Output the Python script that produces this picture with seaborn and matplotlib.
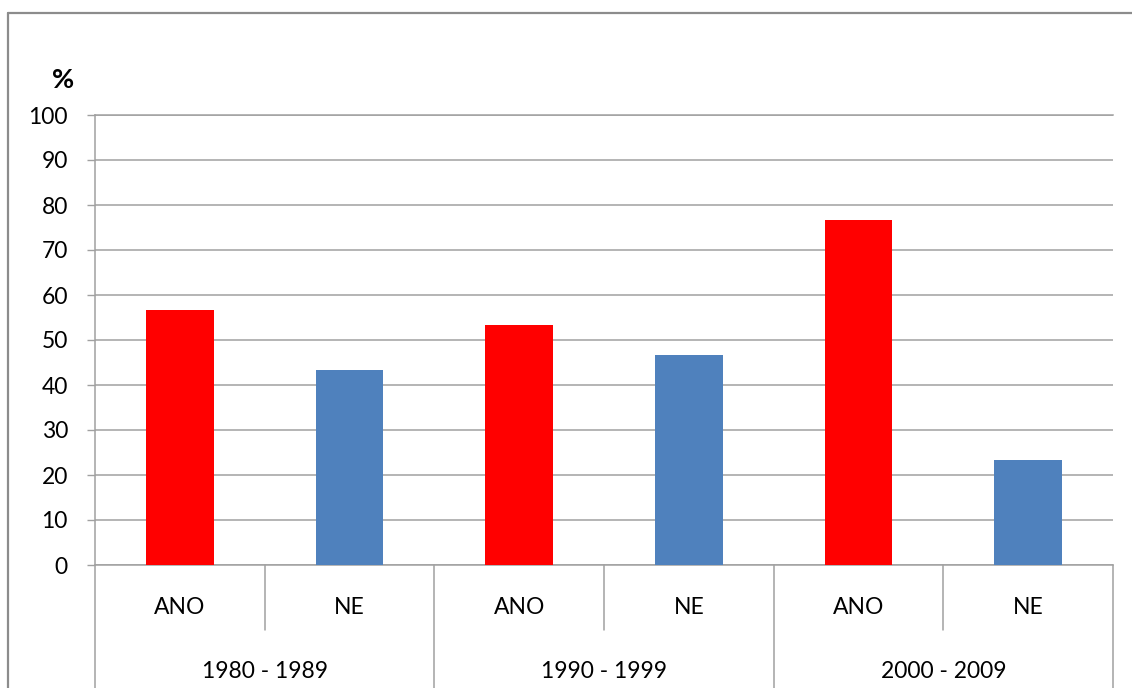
import matplotlib
matplotlib.use("Agg")
import matplotlib.pyplot as plt
import matplotlib.transforms as mtransforms
from matplotlib.lines import Line2D
import pandas as pd
import seaborn as sns

# Data
periods = ["1980 - 1989", "1990 - 1999", "2000 - 2009"]
answers = ["ANO", "NE"]
ano_values = [56.7, 53.3, 76.7]
ne_values = [43.3, 46.7, 23.3]
y_ticks = [0, 10, 20, 30, 40, 50, 60, 70, 80, 90, 100]
colors = {"ANO": "#FF0000", "NE": "#4F81BD"}

rows = []
for p, a_val, n_val in zip(periods, ano_values, ne_values):
    rows.append({"period": p, "answer": "ANO", "value": a_val})
    rows.append({"period": p, "answer": "NE", "value": n_val})
df = pd.DataFrame(rows)
df["slot"] = df["period"] + " | " + df["answer"]
order = list(df["slot"])

sns.set_theme(style="white")
plt.rcParams["font.family"] = ["Lato", "DejaVu Sans"]

W, H = 1132, 688
FS = 16.5
fig = plt.figure(figsize=(W / 100, H / 100), dpi=100)
ax = fig.add_axes([95 / W, (H - 565) / H, 1018 / W, 450 / H])

grid_col = "#A0A0A0"
sns.barplot(data=df, x="slot", y="value", hue="answer", order=order,
            palette=colors, dodge=False, width=0.4, saturation=1,
            legend=False, ax=ax, edgecolor="none", zorder=3)

ax.set_xlim(-0.5, 5.5)
ax.set_ylim(0, 100)
ax.set_yticks(y_ticks)
ax.set_yticklabels([str(t) for t in y_ticks], fontsize=FS, color="#000000")
ax.yaxis.grid(True, color=grid_col, linewidth=1.1, zorder=0)
ax.set_axisbelow(True)
ax.tick_params(axis="y", length=6, width=1.0, color=grid_col, pad=13.5, left=True)
ax.set_xticks([])
ax.set_xlabel("")
ax.set_ylabel("")

for side in ["left", "top", "bottom"]:
    ax.spines[side].set_visible(True)
    ax.spines[side].set_color(grid_col)
    ax.spines[side].set_linewidth(1.1)
ax.spines["right"].set_visible(False)

trans = mtransforms.blended_transform_factory(ax.transData, ax.transAxes)

# Two-level category axis below the plot
short_bottom = (565 - 630) / 450
long_bottom = -0.35
for x in [0.5, 2.5, 4.5]:
    ax.add_line(Line2D([x, x], [0, short_bottom], transform=trans,
                       color=grid_col, linewidth=1.1, clip_on=False))
for x in [-0.5, 1.5, 3.5, 5.5]:
    ax.add_line(Line2D([x, x], [0, long_bottom], transform=trans,
                       color=grid_col, linewidth=1.1, clip_on=False))

for i, slot in enumerate(order):
    label = slot.split(" | ")[1]
    ax.text(i, (565 - 607) / 450, label, transform=trans, ha="center",
            va="center", fontsize=FS, color="#000000")
for g, p in enumerate(periods):
    ax.text(2 * g + 0.5, (565 - 672) / 450, p, transform=trans, ha="center",
            va="center", fontsize=FS, color="#000000")

# Unit label
fig.text(63 / W, 1 - 80 / H, "%", ha="center", va="center", fontsize=19.5,
         fontweight="bold", color="#000000")

# Chart area frame
frame_col = "#8C8C8C"
fig.add_artist(Line2D([8 / W, 8 / W], [0, 1 - 13 / H], transform=fig.transFigure,
                      color=frame_col, linewidth=1.6))
fig.add_artist(Line2D([8 / W, 1], [1 - 13 / H, 1 - 13 / H], transform=fig.transFigure,
                      color=frame_col, linewidth=1.6))

fig.savefig("out.png", dpi=100, facecolor="white")
